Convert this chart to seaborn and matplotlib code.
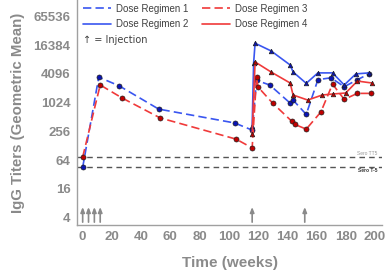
import matplotlib
matplotlib.use("Agg")
import matplotlib.pyplot as plt
from matplotlib.lines import Line2D
import seaborn as sns
import pandas as pd

# Dose Regimen 1 (blue dashed)
weeks_r1 = [0, 11, 25, 52, 104, 116, 119, 128, 142, 144, 153, 161, 170, 179, 188, 196]
titer_r1 = [45, 3500, 2300, 750, 384, 272, 3000, 2400, 1000, 1160, 580, 3100, 3400, 2200, 3100, 4100]

# Dose Regimen 2 (blue solid)
weeks_r2 = [116, 117, 118, 129, 142, 144, 153, 161, 171, 179, 187, 196]
titer_r2 = [331, 6900, 18000, 12400, 6300, 4500, 2600, 4300, 4300, 2400, 4100, 4300]

# Dose Regimen 3 (red dashed)
weeks_r3 = [0, 12, 27, 53, 105, 116, 119, 120, 130, 143, 145, 153, 163, 171, 179, 188, 197]
titer_r3 = [74, 2400, 1280, 490, 176, 115, 3500, 2180, 1000, 420, 360, 285, 650, 2500, 1200, 1600, 1600]

# Dose Regimen 4 (red solid)
weeks_r4 = [116, 118, 129, 142, 144, 154, 164, 171, 180, 188, 198]
titer_r4 = [220, 7300, 4480, 2640, 1480, 1160, 1480, 1550, 1630, 2900, 2640]

injection_weeks = [0, 4, 8, 12, 116, 152]
sero_levels = [74, 46]
sero_labels = ["Sero TT5", "Sero T-5"]
ytick_vals = [4, 16, 64, 256, 1024, 4096, 16384, 65536]
xtick_vals = list(range(0, 201, 20))

BLUE = "#3a56f0"
RED = "#f03a3a"
GREY = "#8a8a8a"

sns.set_style("white")
plt.rcParams["font.family"] = ["Liberation Sans", "DejaVu Sans"]

fig = plt.figure(figsize=(3.9, 2.77), dpi=100)
ax = fig.add_axes([0.197, 0.188, 0.783, 0.812])

series = [
    ("Dose Regimen 1", weeks_r1, titer_r1, BLUE, "#0a14b4", (0, (5, 2.5)), "o", 3.6),
    ("Dose Regimen 2", weeks_r2, titer_r2, BLUE, "#0a14b4", "-", "^", 3.3),
    ("Dose Regimen 3", weeks_r3, titer_r3, RED, "#c00000", (0, (5, 2.5)), "o", 3.6),
    ("Dose Regimen 4", weeks_r4, titer_r4, RED, "#c00000", "-", "^", 3.3),
]

handles = []
for name, wk, ti, col, mcol, ls, mk, ms in series:
    df = pd.DataFrame({"week": wk, "titer": ti})
    sns.lineplot(data=df, x="week", y="titer", ax=ax, color=col, linestyle=ls,
                 linewidth=1.2, marker=mk, markersize=ms, markerfacecolor=mcol,
                 markeredgecolor="#202020", markeredgewidth=0.5, sort=False,
                 estimator=None)
    handles.append(Line2D([0], [0], color=col, linestyle=ls, linewidth=1.2, label=name))

# seroconversion reference lines
for lvl in sero_levels:
    ax.axhline(lvl, color="#555555", linestyle=(0, (4, 3)), linewidth=1.0, zorder=1)
ax.text(0.985, 79, sero_labels[0], transform=ax.get_yaxis_transform(), ha="right",
        va="bottom", fontsize=3.5, color="#999999")
ax.text(0.985, 43, sero_labels[1], transform=ax.get_yaxis_transform(), ha="right",
        va="top", fontsize=3.5, color="#333333", fontweight="bold")

# injection arrows
for w in injection_weeks:
    ax.annotate("", xy=(w, 7.6), xytext=(w, 2.8),
                arrowprops=dict(arrowstyle="-|>,head_length=0.3,head_width=0.12",
                                color=GREY, lw=1.2))

ax.set_yscale("log", base=2)
ax.set_ylim(2.8, 145000)
ax.set_xlim(-4, 205)
ax.set_yticks(ytick_vals)
ax.set_yticklabels([str(v) for v in ytick_vals])
ax.set_xticks(xtick_vals)
ax.minorticks_off()
ax.tick_params(axis="both", colors=GREY, labelsize=9.5, length=2.5, width=0.8, pad=2)
for lab in ax.get_xticklabels() + ax.get_yticklabels():
    lab.set_fontweight("bold")

for side in ["top", "right"]:
    ax.spines[side].set_visible(False)
for side in ["left", "bottom"]:
    ax.spines[side].set_color("#a0a0a0")
    ax.spines[side].set_linewidth(1.0)

ax.set_xlabel("Time (weeks)", fontsize=11, fontweight="bold", color=GREY, labelpad=9)
ax.set_ylabel("IgG Titers (Geometric Mean)", fontsize=10.8, fontweight="bold", color=GREY,
              labelpad=6)

leg = ax.legend(handles=handles, ncol=2, loc="upper left", bbox_to_anchor=(0.0, 1.01),
                frameon=False, fontsize=7, handlelength=2.9, columnspacing=1.4,
                handletextpad=0.5, labelspacing=0.6, borderaxespad=0.2)
for t in leg.get_texts():
    t.set_color("#404040")

ax.text(0.02, 0.82, "\u2191 = Injection", transform=ax.transAxes, fontsize=7,
        color="#404040", va="center", family=["DejaVu Sans"])

fig.savefig("out.png", dpi=100)
